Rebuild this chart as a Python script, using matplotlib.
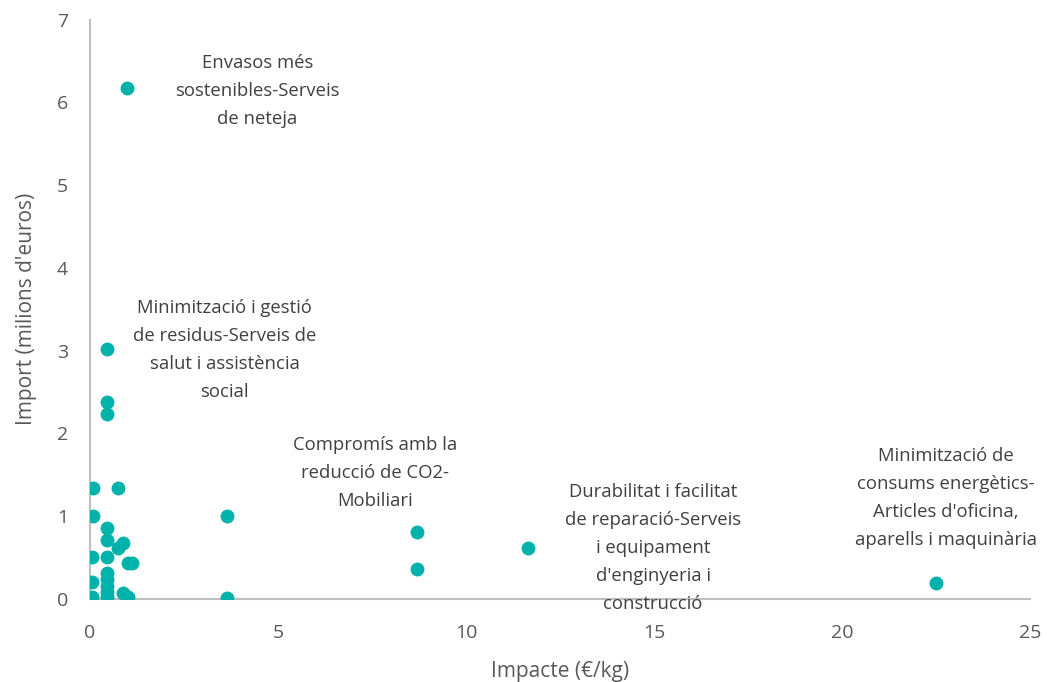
import matplotlib.pyplot as plt

plt.rcParams['font.family'] = ['Open Sans', 'DejaVu Sans']

# Impacte (€/kg) and Import (milions d'euros)
impacte = [0.99, 0.45, 0.45, 0.45, 0.09, 0.75, 0.09, 0.45, 0.45, 0.88, 0.75,
           0.06, 0.45, 1.0, 1.12, 0.06, 0.45, 0.45, 0.45, 0.45, 0.45, 0.06,
           0.88, 1.0, 3.65, 3.65, 8.7, 8.7, 11.65, 22.5]
import_m = [6.18, 3.02, 2.38, 2.24, 1.34, 1.34, 1.0, 0.86, 0.71, 0.68, 0.62,
            0.5, 0.5, 0.43, 0.43, 0.2, 0.31, 0.24, 0.16, 0.08, 0.02, 0.02,
            0.07, 0.02, 1.0, 0.01, 0.81, 0.36, 0.62, 0.19]

etiquetes = [
    "Envasos més\nsostenibles-Serveis\nde neteja",
    "Minimització i gestió\nde residus-Serveis de\nsalut i assistència\nsocial",
    "Compromís amb la\nreducció de CO2-\nMobiliari",
    "Durabilitat i facilitat\nde reparació-Serveis\ni equipament\nd'enginyeria i\nconstrucció",
    "Minimització de\nconsums energètics-\nArticles d'oficina,\naparells i maquinària",
]
etiq_x = [4.45, 3.58, 7.58, 14.97, 22.75]
etiq_y = [6.14, 3.01, 1.52, 0.61, 1.22]

fig = plt.figure(figsize=(10.47, 6.82), dpi=100)
ax = fig.add_axes([0.086, 0.122, 0.898, 0.849])

ax.scatter(impacte, import_m, s=100, color='#00B2A9', zorder=3, linewidths=0)

for t, x, y in zip(etiquetes, etiq_x, etiq_y):
    ax.text(x, y, t, ha='center', va='center', fontsize=13.3,
            color='#404040', linespacing=1.72)

ax.set_xlim(0, 25)
ax.set_ylim(0, 7)
ax.set_xticks([0, 5, 10, 15, 20, 25])
ax.set_yticks(range(8))
ax.tick_params(length=0, labelsize=14, labelcolor='#595959')
ax.tick_params(axis='y', pad=16)
ax.tick_params(axis='x', pad=18)
for s in ['top', 'right']:
    ax.spines[s].set_visible(False)
for s in ['left', 'bottom']:
    ax.spines[s].set_color('#BFBFBF')
    ax.spines[s].set_linewidth(1.5)
ax.spines['left'].set_zorder(1)

ax.set_xlabel("Impacte (€/kg)", fontsize=15, color='#595959', labelpad=14)
ax.set_ylabel("Import (milions d'euros)", fontsize=15, color='#595959', labelpad=14)

fig.savefig('out.png', dpi=100)
